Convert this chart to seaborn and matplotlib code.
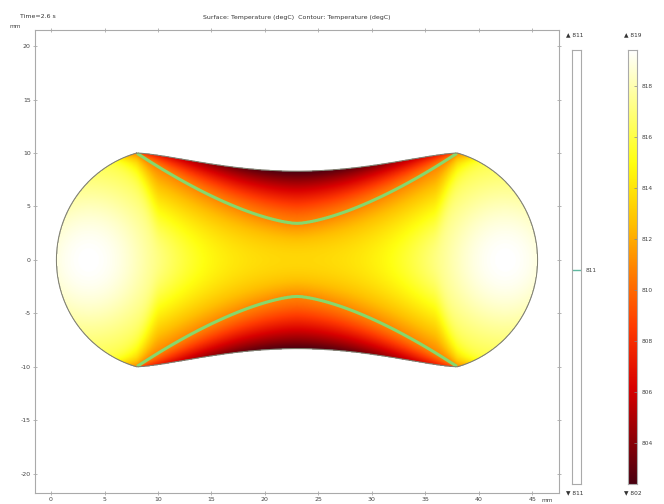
import numpy as np
import matplotlib
matplotlib.use("Agg")
import matplotlib.pyplot as plt
import seaborn as sns
import pandas as pd
from matplotlib.colors import LinearSegmentedColormap

# ---------------- data ----------------
x_ticks = [0, 5, 10, 15, 20, 25, 30, 35, 40, 45]
y_ticks = [-20, -15, -10, -5, 0, 5, 10, 15, 20]
corner_x = [8.0, 38.0]          # x of the four corners (mm)
corner_y = [10.0, -10.0]        # y of the corners (mm)
lobe_tip_x = [0.5, 45.5]        # extreme x of the two rounded ends
waist_depth = [1.7]             # dip of the concave top/bottom edges at mid-span
hot_spot_x = [3.5, 42.5]        # centres of the hottest (white) zones
hot_zone_size = [9.5]           # radial scale of the hot zones (mm)
t_range = [802.4, 819.4]        # min / max surface temperature (degC)
t_contour = [810.8]             # single contour level (degC)
contour_mid_y = [3.4]           # |y| of the contour line at mid-span (mm)
mid_fraction = [0.35]           # cooling fraction along y=0 at mid-span
edge_corner_fraction = [0.62]   # cooling fraction on the edge next to the corners
cbar_ticks = [804, 806, 808, 810, 812, 814, 816, 818]
cmap_stops = [0.0, 0.1, 0.22, 0.36, 0.48, 0.6, 0.74, 0.9, 1.0]
cmap_colors = ["#4a0010", "#8c0006", "#d80000", "#ff3a00", "#ff7a00",
               "#ffc000", "#ffff10", "#ffffa0", "#ffffff"]

# ---------------- style ----------------
sns.set_theme(style="white")
plt.rcParams["font.family"] = ["DejaVu Sans"]
cmap = LinearSegmentedColormap.from_list("heatlight", list(zip(cmap_stops, cmap_colors)))

W, H = 664, 504
fig = plt.figure(figsize=(W / 100, H / 100), dpi=100)
ax = fig.add_axes([35 / W, (H - 493) / H, (559 - 35) / W, (493 - 30) / H])

# ---------------- geometry & field ----------------
xl, xr = corner_x
xmid = 0.5 * (xl + xr)
half = 0.5 * (xr - xl)
ytop_c = corner_y[0]

def ytop(x):
    u = np.clip((x - xmid) / half, -1, 1)
    return ytop_c - waist_depth[0] * (1 - u ** 2) ** 1.5

tipL = lobe_tip_x[0]
cL = (ytop_c ** 2 + xl ** 2 - tipL ** 2) / (2 * (xl - tipL))
rL = cL - tipL
cR = xr - (cL - xl)
rR = rL

xs = np.linspace(-1.5, 47.5, 900)
ys = np.linspace(-11, 11, 420)
X, Y = np.meshgrid(xs, ys)
AY = np.abs(Y)

inside_mid = (X >= xl) & (X <= xr) & (AY <= ytop(X))
inside_L = (X < xl) & ((X - cL) ** 2 + Y ** 2 <= rL ** 2)
inside_R = (X > xr) & ((X - cR) ** 2 + Y ** 2 <= rR ** 2)
inside = inside_mid | inside_L | inside_R

# smooth distance to the nearest hot zone -> background cooling
k = 2.0
dL = np.sqrt((X - hot_spot_x[0]) ** 2 + (0.9 * Y) ** 2)
dR = np.sqrt((X - hot_spot_x[1]) ** 2 + (0.9 * Y) ** 2)
d = -k * np.log(np.exp(-dL / k) + np.exp(-dR / k))
dc = (xmid - hot_spot_x[0]) - k * np.log(2)
a = hot_zone_size[0]
base = mid_fraction[0] * (1 - np.exp(-(d / a) ** 2)) / (1 - np.exp(-(dc / a) ** 2))

Fc = (t_range[1] - t_contour[0]) / (t_range[1] - t_range[0])
u = (X - xmid) / half
uc = np.clip(u, -1, 1)
yc = contour_mid_y[0] + (ytop_c - contour_mid_y[0]) * np.abs(uc) ** 1.5
yt = ytop(X)
m = 2 + 300 * np.clip(np.abs(u) - 0.85, 0, None) ** 2
below = base + (Fc - base) * np.clip(AY / yc, 0, 1) ** m
E = 1 - (1 - edge_corner_fraction[0]) * uc ** 2
above = Fc + (E - Fc) * np.clip((AY - yc) / np.maximum(yt - yc, 1e-3), 0, 1) ** 1.3
F = np.clip(np.where(AY <= yc, below, above), 0, 1)
T = t_range[1] - (t_range[1] - t_range[0]) * F
Tm = np.ma.masked_where(~inside, T)

ax.imshow(Tm, extent=[xs[0], xs[-1], ys[0], ys[-1]], origin="lower",
          cmap=cmap, vmin=t_range[0], vmax=t_range[1], interpolation="bilinear",
          aspect="auto", zorder=1)
ax.contour(X, Y, Tm, levels=t_contour, colors="#86d86c", linewidths=2.2, zorder=3)

# outline
tt = np.linspace(0, 1, 200)
top = xl + (xr - xl) * tt
angR = np.linspace(np.arctan2(ytop_c, xr - cR), np.arctan2(-ytop_c, xr - cR), 200)
bot = xr - (xr - xl) * tt
a0 = np.arctan2(-ytop_c, xl - cL)
a0 = a0 + 2 * np.pi if a0 < 0 else a0
a1 = np.arctan2(ytop_c, xl - cL)
angL = np.linspace(a0, a1, 200)
ox = np.concatenate([top, cR + rR * np.cos(angR), bot, cL + rL * np.cos(angL)])
oy = np.concatenate([ytop(top), rR * np.sin(angR), -ytop(bot), rL * np.sin(angL)])
outline = pd.DataFrame({"x": ox, "y": oy})
sns.lineplot(data=outline, x="x", y="y", sort=False, estimator=None,
             color="#808070", linewidth=0.7, ax=ax, zorder=4)

ax.set_xlim(-1.5, 47.5)
ax.set_ylim(-21.8, 21.5)
ax.set_xlabel("")
ax.set_ylabel("")
ax.set_xticks(x_ticks)
ax.set_yticks(y_ticks)
ax.set_xticklabels([str(t) for t in x_ticks])
ax.set_yticklabels([str(t) for t in y_ticks])
ax.tick_params(axis="both", direction="inout", length=3, width=0.5, color="#999999",
               labelsize=4.5, labelcolor="#444444", pad=1.5,
               top=True, right=True, bottom=True, left=True)
for s in ax.spines.values():
    s.set_color("#aaaaaa")
    s.set_linewidth(0.8)

fig.text(0.5 * (35 + 559) / W, (H - 18) / H,
         "Surface: Temperature (degC)  Contour: Temperature (degC)",
         ha="center", va="center", fontsize=4.5, color="#333333")
fig.text(20 / W, (H - 16) / H, "Time=2.6 s", ha="left", va="center",
         fontsize=4.5, color="#333333")
fig.text(10 / W, (H - 26) / H, "mm", ha="left", va="center", fontsize=4.2, color="#444444")
fig.text(547 / W, (H - 500) / H, "mm", ha="center", va="center", fontsize=4.2, color="#444444")

# ---------------- colour bars ----------------
bar_bottom, bar_top = 484, 50
bh = (bar_bottom - bar_top) / H
cax = fig.add_axes([628 / W, (H - bar_bottom) / H, 9 / W, bh])
grad = np.linspace(t_range[0], t_range[1], 256).reshape(-1, 1)
cax.imshow(grad, extent=[0, 1, t_range[0], t_range[1]], origin="lower",
           aspect="auto", cmap=cmap, vmin=t_range[0], vmax=t_range[1])
cax.set_xlim(0, 1)
cax.set_ylim(t_range[0], t_range[1])
cax.set_xticks([])
cax.yaxis.tick_right()
cax.set_yticks(cbar_ticks)
cax.set_yticklabels([str(t) for t in cbar_ticks])
cax.tick_params(axis="y", direction="in", length=2, width=0.5, color="#888888",
                labelsize=4.2, labelcolor="#444444", pad=3)
for s in cax.spines.values():
    s.set_color("#aaaaaa")
    s.set_linewidth(0.8)
fig.text(624 / W, (H - 35) / H, "\u25B2 %d" % round(t_range[1]), fontsize=4.2,
         color="#333333", va="center")
fig.text(624 / W, (H - 493) / H, "\u25BC %d" % round(t_range[0]), fontsize=4.2,
         color="#333333", va="center")

kax = fig.add_axes([572 / W, (H - bar_bottom) / H, 9 / W, bh])
kax.set_xlim(0, 1)
kax.set_ylim(t_range[0], t_range[1])
kax.hlines(t_contour, 0, 1, colors="#5fb8a0", linewidth=1.0)
kax.set_xticks([])
kax.yaxis.tick_right()
kax.set_yticks(t_contour)
kax.set_yticklabels(["%d" % round(t_contour[0])])
kax.tick_params(axis="y", direction="in", length=2, width=0.5, color="#5fb8a0",
                labelsize=4.2, labelcolor="#444444", pad=3)
for s in kax.spines.values():
    s.set_color("#aaaaaa")
    s.set_linewidth(0.8)
fig.text(566 / W, (H - 35) / H, "\u25B2 %d" % round(t_contour[0]), fontsize=4.2,
         color="#333333", va="center")
fig.text(566 / W, (H - 493) / H, "\u25BC %d" % round(t_contour[0]), fontsize=4.2,
         color="#333333", va="center")

fig.savefig("out.png", dpi=100, facecolor="white")
